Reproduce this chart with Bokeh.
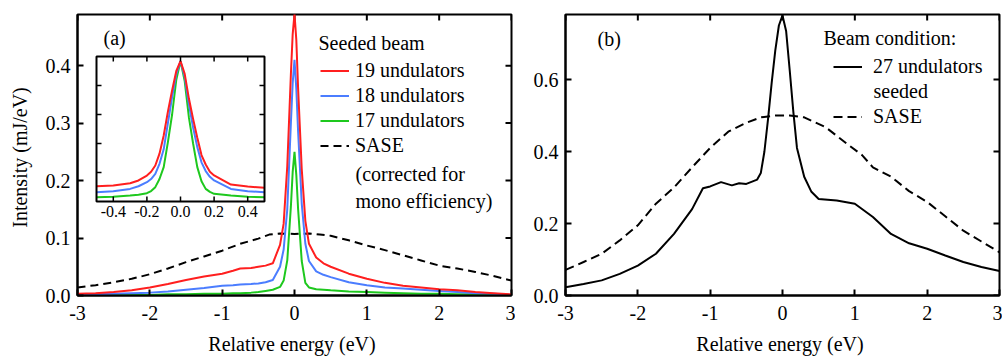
from bokeh.plotting import figure
from bokeh.models import (Range1d, FixedTicker, PrintfTickFormatter,
                          Legend, LegendItem, Label)
from bokeh.layouts import row
from bokeh.embed import file_html
from bokeh.resources import INLINE
from bokeh.core.properties import value

FONT = "Liberation Serif"
FS = "20px"

# ---------------- Panel (a) data ----------------
xa = [-3, -2.75, -2.5, -2.25, -2, -1.75, -1.5, -1.25, -1, -0.85, -0.75, -0.6, -0.5, -0.4,
      -0.3, -0.2, -0.15, -0.1, -0.05, -0.025, 0, 0.025, 0.05, 0.1, 0.15, 0.2, 0.3, 0.4,
      0.5, 0.75, 1, 1.25, 1.5, 1.75, 2, 2.25, 2.5, 2.75, 3]
red19 = [0.003, 0.004, 0.006, 0.009, 0.014, 0.020, 0.027, 0.033, 0.038, 0.043, 0.047, 0.048,
         0.050, 0.052, 0.056, 0.088, 0.125, 0.225, 0.385, 0.455, 0.49, 0.445, 0.36, 0.22,
         0.13, 0.09, 0.066, 0.056, 0.05, 0.038, 0.029, 0.022, 0.017, 0.014, 0.011, 0.009,
         0.006, 0.004, 0.002]
blue18 = [0.001, 0.002, 0.003, 0.004, 0.005, 0.007, 0.010, 0.013, 0.017, 0.018, 0.019, 0.020,
          0.021, 0.023, 0.027, 0.05, 0.08, 0.15, 0.30, 0.37, 0.41, 0.36, 0.285, 0.16, 0.09,
          0.06, 0.042, 0.036, 0.032, 0.023, 0.018, 0.014, 0.012, 0.010, 0.008, 0.006, 0.004,
          0.003, 0.001]
green17 = [0.0, 0.0, 0.001, 0.001, 0.001, 0.002, 0.002, 0.003, 0.003, 0.004, 0.004, 0.005,
           0.006, 0.008, 0.010, 0.015, 0.026, 0.061, 0.155, 0.215, 0.25, 0.21, 0.15, 0.06,
           0.022, 0.014, 0.011, 0.010, 0.009, 0.007, 0.006, 0.005, 0.004, 0.003, 0.003, 0.002,
           0.002, 0.001, 0.001]
xa_sase = [-3, -2.75, -2.5, -2.25, -2, -1.75, -1.5, -1.25, -1, -0.75, -0.5, -0.35, -0.2, 0,
           0.2, 0.35, 0.5, 0.75, 1, 1.25, 1.5, 1.75, 2, 2.25, 2.5, 2.75, 3]
sase_a = [0.014, 0.018, 0.023, 0.029, 0.037, 0.047, 0.058, 0.068, 0.078, 0.090, 0.099, 0.106,
          0.108, 0.107, 0.108, 0.106, 0.104, 0.096, 0.087, 0.079, 0.070, 0.061, 0.052, 0.047,
          0.041, 0.034, 0.026]

# inset (normalised)
x_in = [-0.5, -0.4, -0.3, -0.25, -0.2, -0.175, -0.15, -0.125, -0.1, -0.075, -0.05, -0.025,
        0, 0.025, 0.05, 0.075, 0.1, 0.125, 0.15, 0.175, 0.2, 0.3, 0.4, 0.5]
red_in = [0.105, 0.11, 0.126, 0.145, 0.179, 0.205, 0.248, 0.33, 0.455, 0.62, 0.766, 0.90,
          0.968, 0.88, 0.71, 0.57, 0.44, 0.32, 0.255, 0.205, 0.18, 0.117, 0.103, 0.094]
blue_in = [0.064, 0.071, 0.087, 0.105, 0.133, 0.155, 0.19, 0.26, 0.36, 0.54, 0.72, 0.88,
           0.968, 0.86, 0.67, 0.51, 0.375, 0.27, 0.21, 0.17, 0.145, 0.087, 0.071, 0.064]
green_in = [0.03, 0.033, 0.041, 0.047, 0.057, 0.072, 0.099, 0.155, 0.237, 0.41, 0.60, 0.84,
            0.968, 0.83, 0.58, 0.40, 0.237, 0.14, 0.087, 0.066, 0.053, 0.041, 0.033, 0.03]
inset_xticks = [-0.4, -0.2, 0.0, 0.2, 0.4]
inset_xlabels = ["-0.4", "-0.2", "0.0", "0.2", "0.4"]
inset_yticks = [0.2, 0.4, 0.6, 0.8]

# ---------------- Panel (b) data ----------------
xb = [-3, -2.75, -2.5, -2.25, -2, -1.75, -1.5, -1.25, -1.1, -1, -0.85, -0.7, -0.6, -0.5,
      -0.35, -0.3, -0.25, -0.2, -0.15, -0.1, -0.05, 0, 0.05, 0.1, 0.15, 0.2, 0.3, 0.4, 0.5,
      0.75, 1, 1.25, 1.5, 1.75, 2, 2.25, 2.5, 2.75, 3]
seeded27 = [0.023, 0.032, 0.042, 0.060, 0.083, 0.116, 0.171, 0.24, 0.298, 0.303, 0.315, 0.306,
            0.312, 0.31, 0.322, 0.34, 0.40, 0.49, 0.59, 0.68, 0.75, 0.778, 0.735, 0.625, 0.51,
            0.41, 0.33, 0.288, 0.268, 0.264, 0.255, 0.218, 0.171, 0.145, 0.13, 0.111, 0.093,
            0.079, 0.068]
xb_sase = [-3, -2.75, -2.5, -2.25, -2, -1.75, -1.5, -1.25, -1, -0.75, -0.5, -0.3, -0.1, 0.1,
           0.3, 0.6, 0.9, 1.1, 1.25, 1.5, 1.75, 2, 2.25, 2.5, 2.75, 3]
sase_b = [0.071, 0.093, 0.116, 0.153, 0.195, 0.255, 0.30, 0.356, 0.41, 0.455, 0.48, 0.495,
          0.5, 0.5, 0.495, 0.467, 0.42, 0.39, 0.356, 0.33, 0.29, 0.26, 0.22, 0.18, 0.15, 0.12]

x_ticks = [-3, -2, -1, 0, 1, 2, 3]
ya_ticks = [0.0, 0.1, 0.2, 0.3, 0.4]
yb_ticks = [0.0, 0.2, 0.4, 0.6]

RED, BLUE, GREEN = "#ff1f1f", "#4b7dff", "#1ec81e"

FRAME_W, FRAME_H = 434, 281
TICK = 6


def style_axis(ax, ticks, fmt):
    ax.ticker = FixedTicker(ticks=ticks)
    ax.formatter = PrintfTickFormatter(format=fmt)
    ax.major_tick_in = TICK
    ax.major_tick_out = 0
    ax.major_tick_line_width = 2
    ax.major_tick_line_color = "black"
    ax.minor_tick_line_color = None
    ax.axis_line_width = 2
    ax.axis_line_color = "black"
    ax.major_label_text_font = FONT
    ax.major_label_text_font_size = FS
    ax.major_label_text_color = "black"
    ax.axis_label_text_font = FONT
    ax.axis_label_text_font_style = "normal"
    ax.axis_label_text_font_size = FS
    ax.axis_label_text_color = "black"


def make_fig(width, left, right, ymax, yticks, ylabel):
    p = figure(width=width, height=358, x_range=Range1d(-3, 3), y_range=Range1d(0, ymax),
               output_backend="svg", toolbar_location=None,
               min_border_left=left, min_border_right=right,
               min_border_top=14, min_border_bottom=63,
               x_axis_label="Relative energy  (eV)", y_axis_label=ylabel)
    p.xgrid.visible = False
    p.ygrid.visible = False
    p.outline_line_color = "black"
    p.outline_line_width = 2
    style_axis(p.xaxis[0], x_ticks, "%d")
    p.xaxis[0].major_label_standoff = 10
    p.xaxis[0].axis_label_standoff = 10
    style_axis(p.yaxis[0], yticks, "%.1f")
    p.yaxis[0].major_label_standoff = 7
    p.yaxis[0].axis_label_standoff = 12
    # mirrored inward ticks on top and right edges
    dy = TICK * ymax / FRAME_H
    dx = TICK * 6.0 / FRAME_W
    p.segment(x0=x_ticks, y0=[ymax] * len(x_ticks), x1=x_ticks,
              y1=[ymax - dy] * len(x_ticks), line_color="black", line_width=2)
    p.segment(x0=[3] * len(yticks), y0=yticks, x1=[3 - dx] * len(yticks), y1=yticks,
              line_color="black", line_width=2)
    return p


# ---------------- Panel (a) ----------------
pa = make_fig(515, 77, 4, 0.489, ya_ticks, "Intensity  (mJ/eV)")

r_sase_a = pa.line(xa_sase, sase_a, line_color="black", line_width=2, line_dash="8 5")
r_g = pa.line(xa, green17, line_color=GREEN, line_width=2)
r_b = pa.line(xa, blue18, line_color=BLUE, line_width=2)
r_r = pa.line(xa, red19, line_color=RED, line_width=2)

# inset mapped through extra ranges into a sub-box of the frame
FR_L, FR_R, FR_T, FR_B = 77, 511, 14, 295      # main frame (page px)
IN_L, IN_R, IN_T, IN_B = 96, 264, 56, 201      # inset box (page px)
sx = (IN_R - IN_L) / 1.0
sy = (IN_B - IN_T) / 1.0
pa.extra_x_ranges = {"ix": Range1d(-0.5 - (IN_L - FR_L) / sx, 0.5 + (FR_R - IN_R) / sx)}
pa.extra_y_ranges = {"iy": Range1d(0 - (FR_B - IN_B) / sy, 1 + (IN_T - FR_T) / sy)}
kw = dict(x_range_name="ix", y_range_name="iy")
pa.quad(left=[-0.5], right=[0.5], bottom=[0], top=[1], fill_color="white",
        line_color=None, **kw)
pa.line(x_in, green_in, line_color=GREEN, line_width=2, **kw)
pa.line(x_in, blue_in, line_color=BLUE, line_width=2, **kw)
pa.line(x_in, red_in, line_color=RED, line_width=2, **kw)
pa.quad(left=[-0.5], right=[0.5], bottom=[0], top=[1], fill_color=None,
        line_color="black", line_width=2, **kw)
tlx = 5 / sx
tly = 5 / sy
pa.segment(x0=inset_xticks, y0=[0] * 5, x1=inset_xticks, y1=[tly] * 5,
           line_color="black", line_width=1.5, **kw)
pa.segment(x0=inset_xticks, y0=[1] * 5, x1=inset_xticks, y1=[1 - tly] * 5,
           line_color="black", line_width=1.5, **kw)
pa.segment(x0=[-0.5] * 4, y0=inset_yticks, x1=[-0.5 + tlx] * 4, y1=inset_yticks,
           line_color="black", line_width=1.5, **kw)
pa.segment(x0=[0.5] * 4, y0=inset_yticks, x1=[0.5 - tlx] * 4, y1=inset_yticks,
           line_color="black", line_width=1.5, **kw)
pa.text(x=inset_xticks, y=[0] * 5, text=inset_xlabels, text_font=value(FONT),
        text_font_size="16px", text_align="center", text_baseline="top", y_offset=4,
        text_color="black", **kw)

leg_a = Legend(items=[LegendItem(label="19 undulators", renderers=[r_r]),
                      LegendItem(label="18 undulators", renderers=[r_b]),
                      LegendItem(label="17 undulators", renderers=[r_g]),
                      LegendItem(label="SASE", renderers=[r_sase_a])],
               location=(243, 138), padding=0, margin=0, spacing=2,
               glyph_width=29, glyph_height=23, label_height=23, label_standoff=6,
               border_line_color=None, background_fill_alpha=0,
               label_text_font=FONT, label_text_font_size=FS, label_text_color="black")
pa.add_layout(leg_a)

lab = dict(x_units="screen", y_units="screen", text_font=FONT, text_font_size=FS,
           text_baseline="middle", text_color="black")
pa.add_layout(Label(x=241, y=253, text="Seeded beam", **lab))
pa.add_layout(Label(x=278, y=122, text="(corrected for", **lab))
pa.add_layout(Label(x=278, y=95, text="mono efficiency)", **lab))
pa.add_layout(Label(x=26, y=258, text="(a)", **lab))

# ---------------- Panel (b) ----------------
pb = make_fig(487, 50, 3, 0.7806, yb_ticks, None)
pb.yaxis[0].axis_label = None
r_sase_b = pb.line(xb_sase, sase_b, line_color="black", line_width=2, line_dash="9 5")
r_seed = pb.line(xb, seeded27, line_color="black", line_width=2)

leg_b = Legend(items=[LegendItem(label="27 undulators", renderers=[r_seed]),
                      LegendItem(label="SASE", renderers=[r_sase_b])],
               location=(268, 167), padding=0, margin=0, spacing=27,
               glyph_width=29, glyph_height=23, label_height=23, label_standoff=11,
               border_line_color=None, background_fill_alpha=0,
               label_text_font=FONT, label_text_font_size=FS, label_text_color="black")
pb.add_layout(leg_b)
pb.add_layout(Label(x=258, y=258, text="Beam condition:", **lab))
pb.add_layout(Label(x=308, y=205, text="seeded", **lab))
pb.add_layout(Label(x=32, y=257, text="(b)", **lab))

layout = row(pa, pb)
open("out.html", "w").write(file_html(layout, INLINE))
